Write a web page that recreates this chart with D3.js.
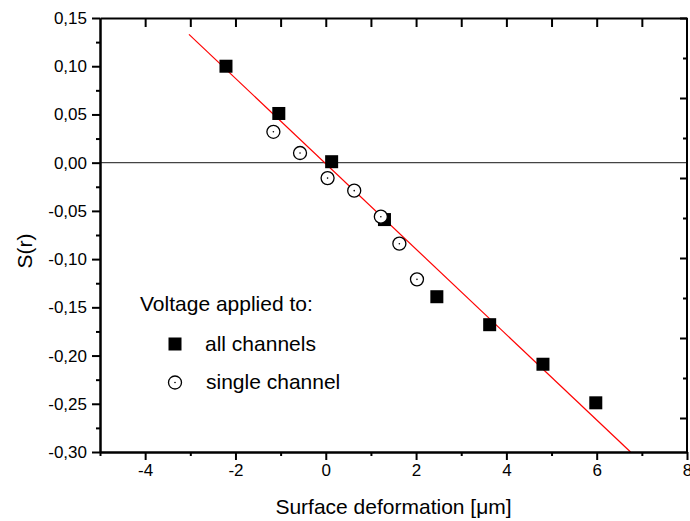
<!DOCTYPE html>
<html>
<head>
<meta charset="utf-8">
<script src="https://cdn.jsdelivr.net/npm/d3@7"></script>
<style>
  body { margin: 0; background: #fff; }
  svg { font-family: "Liberation Sans", Arial, sans-serif; }
</style>
</head>
<body>
<div id="chart"></div>
<script>
// all channels (filled squares)
const allX = [-2.21, -1.04, 0.13, 1.30, 2.46, 3.63, 4.81, 5.98];
const allY = [0.100, 0.051, 0.001, -0.059, -0.139, -0.168, -0.209, -0.249];

// single channel (open circles)
const singleX = [-1.16, -0.57, 0.04, 0.63, 1.22, 1.63, 2.02];
const singleY = [0.032, 0.010, -0.016, -0.029, -0.056, -0.084, -0.121];

// linear fit (red)
const fitX = [-3.03, 6.75];
const fitY = [0.133, -0.300];

const xTicks = [-4, -2, 0, 2, 4, 6, 8];
const xMinor = [-5, -3, -1, 1, 3, 5, 7];
const yTicks = [0.15, 0.10, 0.05, 0.00, -0.05, -0.10, -0.15, -0.20, -0.25, -0.30];
const yMinor = [0.125, 0.075, 0.025, -0.025, -0.075, -0.125, -0.175, -0.225, -0.275];
const topTicks = [-4, -3, -2, -1, 0, 1, 2, 3, 4, 5, 6, 7];
const rightTicks = [0, 1, 2, 3, 4, 5];
const rightMinor = [0.5, 1.5, 2.5, 3.5, 4.5];

const width = 690;
const height = 521;
const margin = { top: 18, right: 3, bottom: 69, left: 100 };

const svg = d3.select('#chart')
    .append('svg')
    .attr('width', width)
    .attr('height', height);

const x = d3.scaleLinear().domain([-5, 8]).range([margin.left, width - margin.right]);
const y = d3.scaleLinear().domain([0.15, -0.30]).range([margin.top, height - margin.bottom]);
const yRight = d3.scaleLinear().domain([0, 434 / 80]).range([margin.top, height - margin.bottom]);

const locale = d3.formatLocale({ decimal: ',', thousands: '.', grouping: [3], currency: ['', ''], minus: '-' });
const fmt = locale.format('.2f');
const fmtInt = locale.format('d');

// zero line
svg.append('line')
    .attr('x1', x(-5)).attr('x2', x(8))
    .attr('y1', y(0)).attr('y2', y(0))
    .attr('stroke', '#444')
    .attr('stroke-width', 1.2);

// fit line
svg.append('line')
    .attr('x1', x(fitX[0])).attr('y1', y(fitY[0]))
    .attr('x2', x(fitX[1])).attr('y2', y(fitY[1]))
    .attr('stroke', '#ff0000')
    .attr('stroke-width', 1.2);

function styleAxis(g) {
    g.select('.domain').attr('stroke', '#000').attr('stroke-width', 2);
    g.selectAll('.tick line').attr('stroke', '#000').attr('stroke-width', 2);
    g.selectAll('.tick text')
        .attr('fill', '#000')
        .style('font-size', '17px')
        .style('font-family', '"Liberation Sans", Arial, sans-serif');
}

// bottom axis
svg.append('g')
    .attr('transform', `translate(0,${y(-0.30)})`)
    .call(d3.axisBottom(x).tickValues(xTicks).tickSize(8).tickSizeOuter(0).tickPadding(4).tickFormat(fmtInt))
    .call(styleAxis);
svg.append('g')
    .attr('transform', `translate(0,${y(-0.30)})`)
    .call(d3.axisBottom(x).tickValues(xMinor).tickSize(4).tickSizeOuter(0).tickFormat(''))
    .call(styleAxis);

// top axis
svg.append('g')
    .attr('transform', `translate(0,${y(0.15)})`)
    .call(d3.axisBottom(x).tickValues(topTicks).tickSize(9).tickSizeOuter(0).tickFormat(''))
    .call(styleAxis);

// left axis
svg.append('g')
    .attr('transform', `translate(${x(-5)},0)`)
    .call(d3.axisLeft(y).tickValues(yTicks).tickSize(8).tickSizeOuter(0).tickPadding(5).tickFormat(fmt))
    .call(styleAxis);
svg.append('g')
    .attr('transform', `translate(${x(-5)},0)`)
    .call(d3.axisLeft(y).tickValues(yMinor).tickSize(4).tickSizeOuter(0).tickFormat(''))
    .call(styleAxis);

// right axis
svg.append('g')
    .attr('transform', `translate(${x(8)},0)`)
    .call(d3.axisLeft(yRight).tickValues(rightTicks).tickSize(7).tickSizeOuter(0).tickFormat(''))
    .call(styleAxis)
    .call(g => g.select('.domain').remove());
svg.append('g')
    .attr('transform', `translate(${x(8)},0)`)
    .call(d3.axisLeft(yRight).tickValues(rightMinor).tickSize(4).tickSizeOuter(0).tickFormat(''))
    .call(styleAxis)
    .call(g => g.select('.domain').remove());
svg.append('line')
    .attr('x1', x(8)).attr('x2', x(8))
    .attr('y1', y(0.15)).attr('y2', y(-0.30))
    .attr('stroke', '#000').attr('stroke-width', 2);

// squares
const sq = 13;
svg.append('g')
    .selectAll('rect')
    .data(allX.map((d, i) => [d, allY[i]]))
    .join('rect')
    .attr('x', d => x(d[0]) - sq / 2)
    .attr('y', d => y(d[1]) - sq / 2)
    .attr('width', sq)
    .attr('height', sq)
    .attr('fill', '#000');

// circles
const circ = svg.append('g')
    .selectAll('g')
    .data(singleX.map((d, i) => [d, singleY[i]]))
    .join('g')
    .attr('transform', d => `translate(${x(d[0])},${y(d[1])})`);
circ.append('circle').attr('r', 6.5).attr('fill', '#fff').attr('stroke', '#000').attr('stroke-width', 1.3);
circ.append('circle').attr('r', 0.8).attr('fill', '#000');

// axis titles
svg.append('text')
    .attr('x', (x(-5) + x(8)) / 2)
    .attr('y', 514)
    .attr('text-anchor', 'middle')
    .style('font-size', '21px')
    .text('Surface deformation [μm]');

svg.append('text')
    .attr('transform', 'translate(32,251) rotate(-90)')
    .attr('text-anchor', 'middle')
    .style('font-size', '21px')
    .text('S(r)');

// legend
svg.append('text')
    .attr('x', 140).attr('y', 311)
    .style('font-size', '21px')
    .text('Voltage applied to:');

svg.append('rect')
    .attr('x', 175 - sq / 2).attr('y', 344 - sq / 2)
    .attr('width', sq).attr('height', sq)
    .attr('fill', '#000');
svg.append('text')
    .attr('x', 205).attr('y', 351)
    .style('font-size', '21px')
    .text('all channels');

svg.append('circle')
    .attr('cx', 175).attr('cy', 382.5).attr('r', 6.5)
    .attr('fill', '#fff').attr('stroke', '#000').attr('stroke-width', 1.3);
svg.append('circle')
    .attr('cx', 175).attr('cy', 382.5).attr('r', 0.8).attr('fill', '#000');
svg.append('text')
    .attr('x', 206).attr('y', 389)
    .style('font-size', '21px')
    .text('single channel');
</script>
</body>
</html>
